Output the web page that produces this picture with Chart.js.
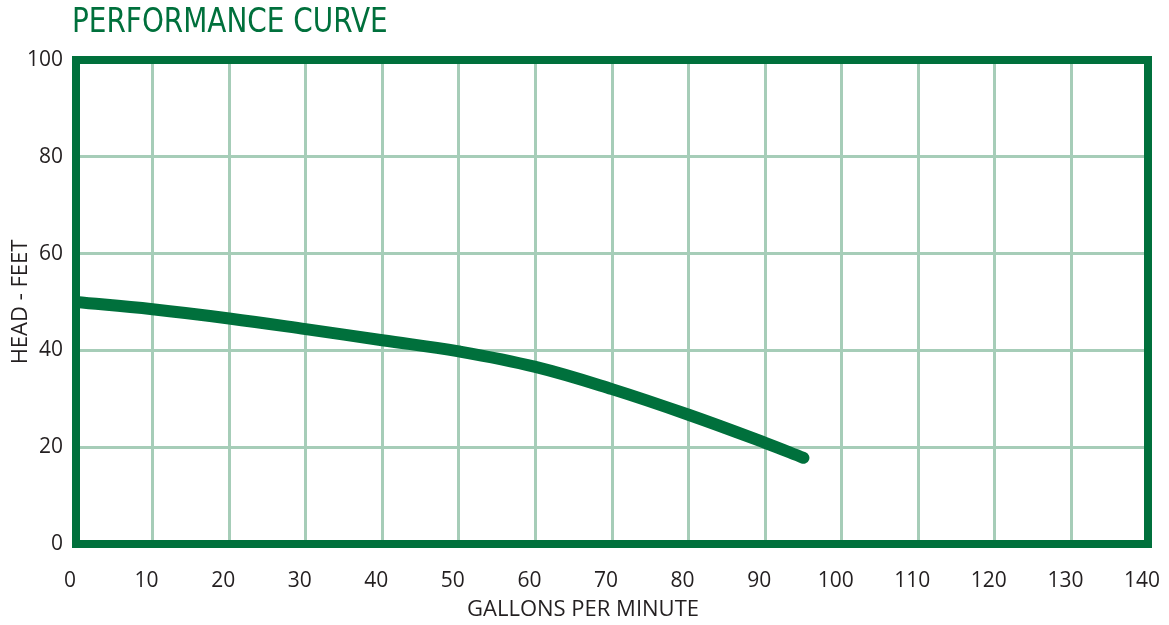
<!DOCTYPE html>
<html>
<head>
<meta charset="utf-8">
<script src="https://cdn.jsdelivr.net/npm/chart.js@4.4.1/dist/chart.umd.min.js"></script>
<style>
    html, body { margin: 0; padding: 0; background: #fff; }
    #wrap { position: relative; width: 1169px; height: 625px; }
    #title {
        position: absolute; left: 72px; top: 1px;
        font-family: "Liberation Sans Narrow", "DejaVu Sans Condensed", sans-serif;
        font-size: 33px; line-height: 40px; color: #00703c;
        transform: scaleX(0.94); transform-origin: left top;
    }
</style>
</head>
<body>
<div id="wrap">
    <div id="title">PERFORMANCE CURVE</div>
    <canvas id="curveChart" width="1169" height="625"></canvas>
</div>
<script>
// Chart data
const flowGpm = [0, 10, 20, 30, 40, 50, 60, 70, 80, 90, 95];
const headFeet = [50, 48.5, 46.6, 44.4, 42.1, 39.8, 36.6, 32, 26.7, 20.9, 17.8];
const xTicks = [0, 10, 20, 30, 40, 50, 60, 70, 80, 90, 100, 110, 120, 130, 140];
const yTicks = [0, 20, 40, 60, 80, 100];
const xAxisTitle = 'GALLONS PER MINUTE';

const darkGreen = '#00703c';
const gridGreen = '#a6cdb8';
const textColor = '#231f20';

// Draws the heavy green box round the plot area, and the x axis title
// (which sits a little left of the plot centre in the original)
const frameBox = {
    id: 'frameBox',
    afterDatasetsDraw(chart) {
        const { ctx, chartArea } = chart;
        ctx.save();
        ctx.strokeStyle = darkGreen;
        ctx.lineWidth = 8;
        ctx.strokeRect(chartArea.left, chartArea.top,
            chartArea.right - chartArea.left, chartArea.bottom - chartArea.top);
        ctx.restore();
    },
    afterDraw(chart) {
        const { ctx } = chart;
        ctx.save();
        ctx.fillStyle = textColor;
        ctx.font = '22px "Open Sans"';
        ctx.textAlign = 'center';
        ctx.textBaseline = 'middle';
        ctx.fillText(xAxisTitle, 583, 610);
        ctx.restore();
    }
};

const ctx = document.getElementById('curveChart').getContext('2d');
new Chart(ctx, {
    type: 'line',
    data: {
        datasets: [{
            data: flowGpm.map((x, i) => ({ x: x, y: headFeet[i] })),
            borderColor: darkGreen,
            borderWidth: 12,
            borderCapStyle: 'round',
            borderJoinStyle: 'round',
            tension: 0.4,
            pointRadius: 0,
            fill: false
        }]
    },
    options: {
        responsive: false,
        animation: false,
        layout: { padding: { top: 60, right: 21, left: 0, bottom: 0 } },
        plugins: {
            legend: { display: false },
            tooltip: { enabled: false }
        },
        scales: {
            x: {
                type: 'linear',
                min: 0,
                max: 140,
                afterBuildTicks: (scale) => { scale.ticks = xTicks.map(v => ({ value: v })); },
                afterFit: (scale) => {
                    scale.height = 81;
                    scale.paddingLeft = 0;
                    scale.paddingRight = 0;
                },
                border: { display: false },
                grid: { color: gridGreen, lineWidth: 3, drawTicks: false },
                ticks: {
                    color: textColor,
                    padding: 24,
                    labelOffset: -6,
                    maxRotation: 0,
                    font: { family: 'Open Sans', size: 21 }
                }
            },
            y: {
                min: 0,
                max: 100,
                afterBuildTicks: (scale) => { scale.ticks = yTicks.map(v => ({ value: v })); },
                afterFit: (scale) => {
                    scale.width = 76;
                    scale.paddingTop = 0;
                    scale.paddingBottom = 0;
                },
                border: { display: false },
                grid: { color: gridGreen, lineWidth: 3, drawTicks: false },
                ticks: {
                    color: textColor,
                    padding: 13,
                    font: { family: 'Open Sans', size: 21 }
                },
                title: {
                    display: true,
                    text: 'HEAD - FEET',
                    color: textColor,
                    padding: { top: 8, bottom: 0 },
                    font: { family: 'Open Sans', size: 22 }
                }
            }
        }
    },
    plugins: [frameBox]
});
</script>
</body>
</html>
